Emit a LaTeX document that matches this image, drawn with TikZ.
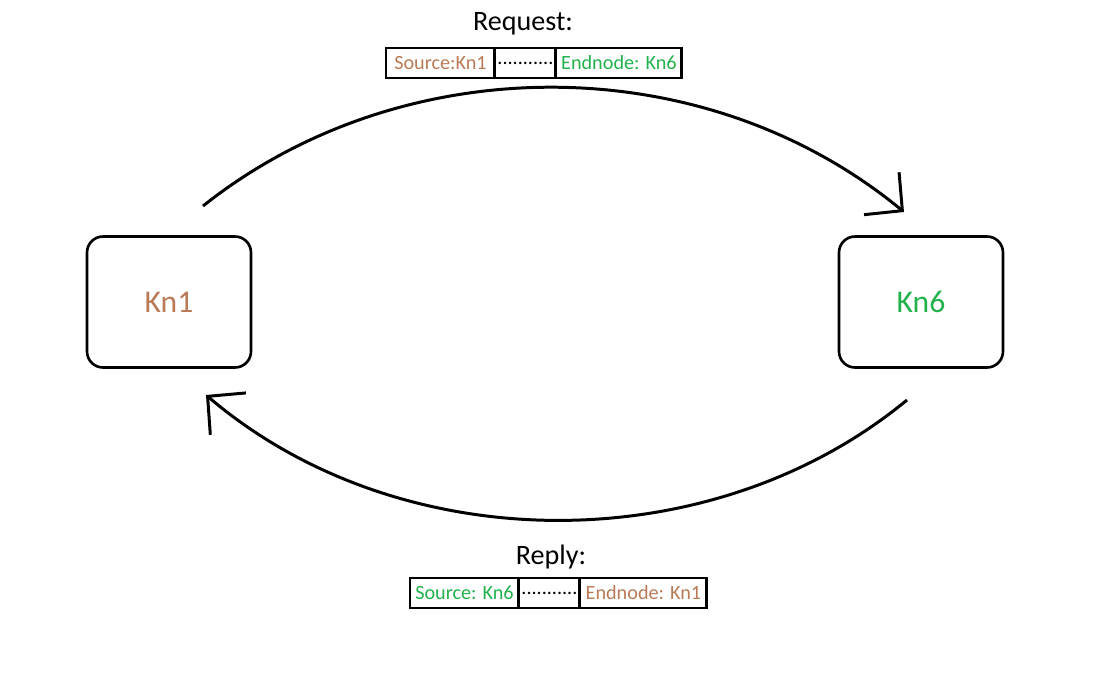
\documentclass[tikz,border=0pt]{standalone}
\usepackage{fontspec}
\setmainfont{Carlito}
\usetikzlibrary{positioning,arrows.meta}
\definecolor{kbraun}{RGB}{185,122,87}
\definecolor{kgruen}{RGB}{34,177,76}
\tikzset{
	knoten/.style={draw, line width=1.5pt, rounded corners=0.32cm, minimum width=3.28cm, minimum height=2.62cm, font=\fontsize{18}{20}\selectfont},
	feld/.style={draw, line width=1.7pt, inner sep=0pt, outer sep=0pt, minimum height=0.6cm, font=\fontsize{11.5}{12}\selectfont},
	titel/.style={font=\fontsize{16}{18}\selectfont},
	bogen/.style={line width=1.7pt, -{Straight Barb[length=0.54cm, width=1.1cm]}}
}
\begin{document}
\begin{tikzpicture}[x=0.02cm, y=-0.02cm]
	\useasboundingbox (0,0) rectangle (1107,689);
	% Knoten
	\node [knoten, text=kbraun] (kn1) at (169,302) {Kn1};
	\node [knoten, text=kgruen] (kn6) at (921,302) {Kn6};
	% Anfrage
	\node [titel] (req) at (523,24) {Request:};
	\node [feld, minimum width=2.18cm, text=kbraun, anchor=west] (req1) at (386,63) {Source:Kn1};
	\node [feld, minimum width=1.22cm, right=0pt of req1] (req2) {...........};
	\node [feld, minimum width=2.52cm, text=kgruen, right=0pt of req2] (req3) {Endnode: Kn6};
	% Antwort
	\node [titel] (rep) at (551,557) {Reply:};
	\node [feld, minimum width=2.18cm, text=kgruen, anchor=west] (rep1) at (410,593) {Source: Kn6};
	\node [feld, minimum width=1.22cm, right=0pt of rep1] (rep2) {...........};
	\node [feld, minimum width=2.54cm, text=kbraun, right=0pt of rep2] (rep3) {Endnode: Kn1};
	% Pfeile
	\coordinate (hin1) at (203,206);
	\coordinate (hin6) at (904,212);
	\coordinate (rueck6) at (907,400);
	\coordinate (rueck1) at (206,395);
	\draw [bogen] (hin1) .. controls (403,47) and (704,47) .. (hin6);
	\draw [bogen] (rueck6) .. controls (712,561) and (401,561) .. (rueck1);
\end{tikzpicture}
\end{document}
